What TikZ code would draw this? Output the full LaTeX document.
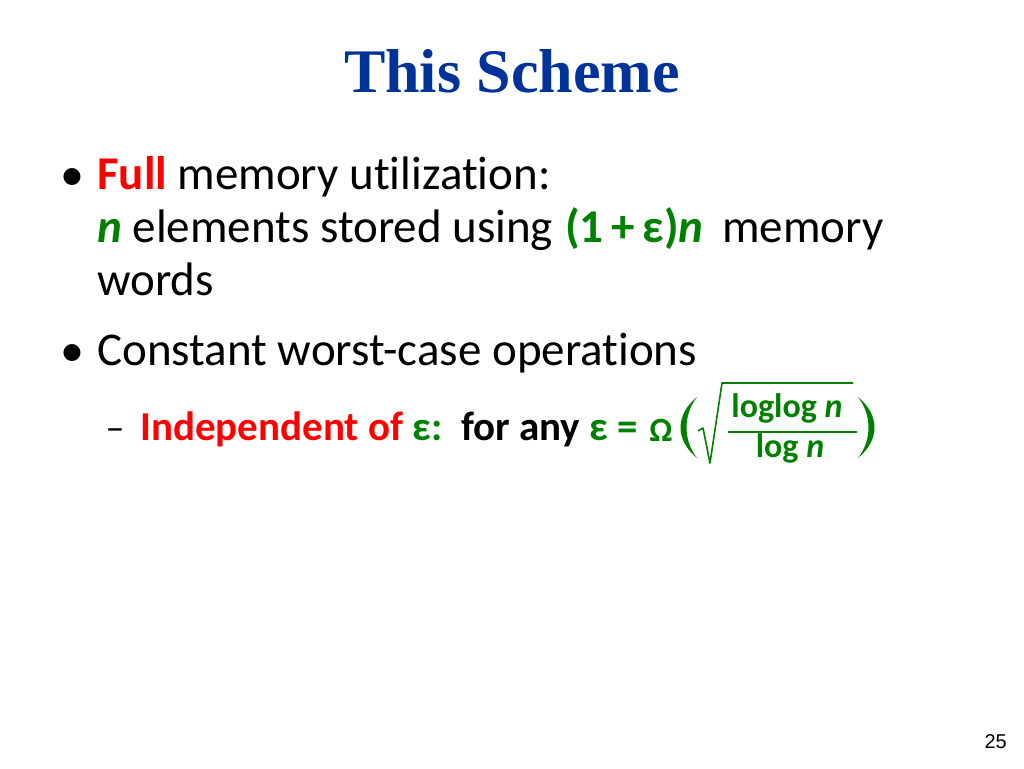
\documentclass[tikz,border=0pt]{standalone}
\usepackage{fontspec}
\setmainfont{Carlito}[Ligatures={TeX,NoCommon}]
\newfontfamily\titlefont{Liberation Serif}
\newfontfamily\numfont{Liberation Sans}
\definecolor{titleblue}{RGB}{0,51,153}
\definecolor{kgreen}{RGB}{0,128,0}
\definecolor{kred}{RGB}{255,0,0}
\tikzset{
  line/.style={anchor=base west, inner sep=0pt, font=\fontsize{47}{56}\selectfont},
  subline/.style={anchor=base west, inner sep=0pt, font=\bfseries\fontsize{41}{49}\selectfont},
  formula/.style={anchor=base, inner sep=0pt, text=kgreen, font=\bfseries\fontsize{34}{40}\selectfont}
}
\begin{document}
\begin{tikzpicture}[x=1pt,y=-1pt]

 \useasboundingbox (0,0) rectangle (1024,768);

 %title
 \node[anchor=base, inner sep=0pt, text=titleblue, font=\titlefont\bfseries\fontsize{62}{74}\selectfont] (title) at (512,92) {This Scheme};

 %bullets
 \foreach \y/\name in {190/b1, 366/b2}{
     \node[anchor=base, inner sep=0pt, font=\fontsize{48}{56}\selectfont] (\name) at (72,\y) {•};
 }
 \node[anchor=base, inner sep=0pt, font=\fontsize{38}{46}\selectfont] (d1) at (115,440) {–};

 %first item
 \node[line] (full) at (97,189) {\textcolor{kred}{\bfseries Full} memory utilization:};
 \node[line] (elem) at (97,242) {\textcolor{kgreen}{\bfseries\itshape n} elements stored using};
 \node[line, text=kgreen, font=\bfseries\fontsize{47}{56}\selectfont] (eps) at (565,242) {(1\,+\,ε)\textit{n}};
 \node[line] (mem) at (722,242) {memory};
 \node[line] (words) at (97,295) {words};

 %second item
 \node[line] (const) at (97,365) {Constant worst-case operations};
 \node[subline] (indep) at (140,440) {\textcolor{kred}{Independent of} \textcolor{kgreen}{ε:}\ \ for any \textcolor{kgreen}{ε =}};

 %omega(sqrt(loglog n / log n))
 \node[formula] (omega) at (661,441) {Ω};
 \node[formula] (num) at (787,417) {loglog \textit{n}};
 \node[formula] (den) at (790,457) {log \textit{n}};
 \coordinate (bl) at (728,432);
 \coordinate (br) at (857,432);
 \draw[kgreen, line width=2pt] (bl) -- (br);
 \draw[kgreen, line width=1.6pt, line join=round] (698,431) -- (703,428) -- (710,463) -- (722,383) -- (853,383);
 \fill[kgreen] (697,397) .. controls (675,415) and (675,440) .. (697,458)
               .. controls (683,440) and (683,415) .. cycle;
 \fill[kgreen] (858,397) .. controls (880,415) and (880,440) .. (858,458)
               .. controls (872,440) and (872,415) .. cycle;

 %page number
 \node[anchor=base east, inner sep=0pt, font=\numfont\fontsize{20}{24}\selectfont] (page) at (1007,748) {25};

\end{tikzpicture}
\end{document}
